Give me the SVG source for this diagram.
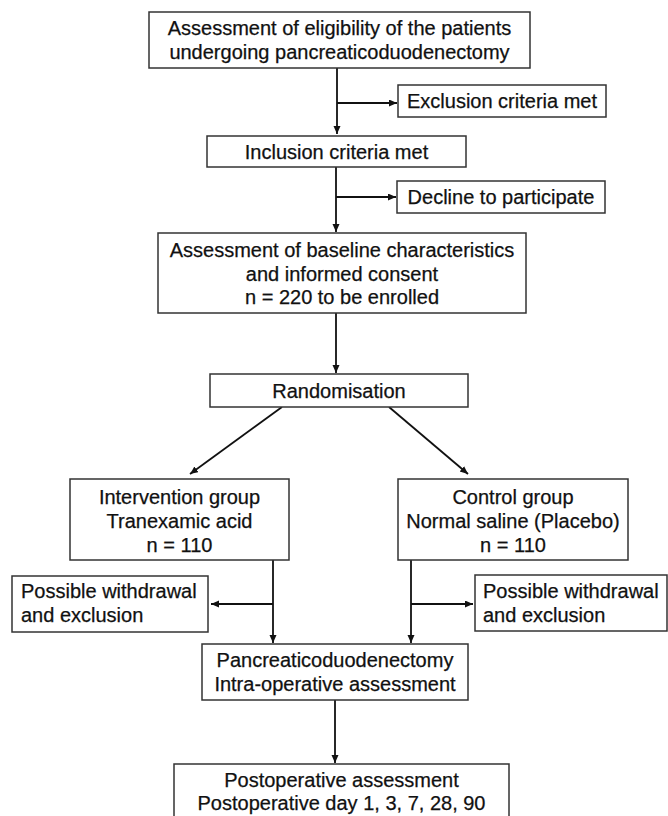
<svg xmlns="http://www.w3.org/2000/svg" width="668" height="816" viewBox="0 0 668 816">
<defs>
<marker id="ah" markerUnits="userSpaceOnUse" markerWidth="9" markerHeight="8" refX="8" refY="3.5" orient="auto">
<path d="M0,0 L8,3.5 L0,7 z" fill="#111"/>
</marker>
<style>
rect{fill:#fff;stroke:#333;stroke-width:1.5}
text{font-family:"Liberation Sans",Arial,sans-serif;font-size:20px;fill:#111;stroke:#111;stroke-width:0.25}
.c{text-anchor:middle}
#connectors line{stroke:#111;stroke-width:1.8;fill:none}
</style>
</defs>
<rect x="0" y="0" width="668" height="816" style="fill:#fff;stroke:none"/>
<g id="connectors">
<line x1="337" y1="68" x2="337" y2="134" marker-end="url(#ah)"/>
<line x1="337" y1="103" x2="397" y2="103" marker-end="url(#ah)"/>
<line x1="336" y1="167" x2="336" y2="232" marker-end="url(#ah)"/>
<line x1="336" y1="197" x2="396" y2="197" marker-end="url(#ah)"/>
<line x1="336" y1="313" x2="336" y2="373" marker-end="url(#ah)"/>
<line x1="282" y1="407" x2="190" y2="474" marker-end="url(#ah)"/>
<line x1="389" y1="407" x2="468" y2="474" marker-end="url(#ah)"/>
<line x1="273" y1="560" x2="273" y2="643" marker-end="url(#ah)"/>
<line x1="273" y1="604" x2="211" y2="604" marker-end="url(#ah)"/>
<line x1="411" y1="560" x2="411" y2="643" marker-end="url(#ah)"/>
<line x1="411" y1="604" x2="473" y2="604" marker-end="url(#ah)"/>
<line x1="335" y1="700" x2="335" y2="763" marker-end="url(#ah)"/>
</g>
<g id="eligibility">
<rect x="149" y="12" width="381" height="56"/>
<text class="c" x="339.5" y="35">Assessment of eligibility of the patients</text>
<text class="c" x="339.5" y="59">undergoing pancreaticoduodenectomy</text>
</g>
<g id="exclusion">
<rect x="398" y="85" width="208" height="32"/>
<text class="c" x="502" y="108">Exclusion criteria met</text>
</g>
<g id="inclusion">
<rect x="207" y="136" width="259" height="31"/>
<text class="c" x="336.5" y="158.5">Inclusion criteria met</text>
</g>
<g id="decline">
<rect x="397" y="181" width="208" height="32"/>
<text class="c" x="501" y="204">Decline to participate</text>
</g>
<g id="baseline">
<rect x="158" y="233" width="368" height="80"/>
<text class="c" x="342" y="257">Assessment of baseline characteristics</text>
<text class="c" x="342" y="281">and informed consent</text>
<text class="c" x="342" y="304">n = 220 to be enrolled</text>
</g>
<g id="randomisation">
<rect x="210" y="374" width="258" height="33"/>
<text class="c" x="339" y="397.5">Randomisation</text>
</g>
<g id="intervention">
<rect x="70" y="479" width="219" height="81"/>
<text class="c" x="179.5" y="504">Intervention group</text>
<text class="c" x="179.5" y="528">Tranexamic acid</text>
<text class="c" x="179.5" y="552">n = 110</text>
</g>
<g id="control">
<rect x="398" y="479" width="230" height="81"/>
<text class="c" x="513" y="504">Control group</text>
<text class="c" x="513" y="528">Normal saline (Placebo)</text>
<text class="c" x="513" y="552">n = 110</text>
</g>
<g id="withdrawal-left">
<rect x="12" y="576" width="196" height="56"/>
<text x="21" y="598">Possible withdrawal</text>
<text x="21" y="622">and exclusion</text>
</g>
<g id="withdrawal-right">
<rect x="475" y="575" width="192" height="56"/>
<text x="483" y="598">Possible withdrawal</text>
<text x="483" y="622">and exclusion</text>
</g>
<g id="surgery">
<rect x="202" y="644" width="266" height="56"/>
<text class="c" x="335" y="667">Pancreaticoduodenectomy</text>
<text class="c" x="335" y="691">Intra-operative assessment</text>
</g>
<g id="postop">
<rect x="174" y="764" width="335" height="70"/>
<text class="c" x="341.5" y="787">Postoperative assessment</text>
<text class="c" x="341.5" y="810">Postoperative day 1, 3, 7, 28, 90</text>
</g>
</svg>
